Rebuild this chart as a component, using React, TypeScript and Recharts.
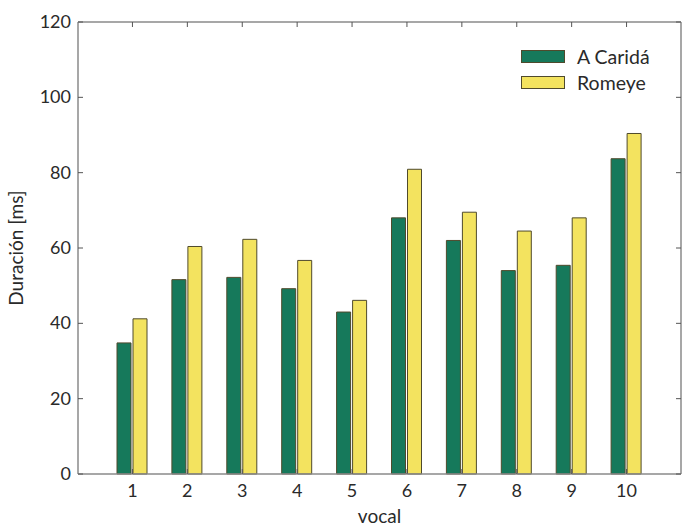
import { BarChart, Bar, XAxis, YAxis, Label } from "recharts";

const vocales = ["1", "2", "3", "4", "5", "6", "7", "8", "9", "10"];
const aCarida = [34.8, 51.6, 52.2, 49.2, 43.0, 68.0, 62.0, 54.0, 55.4, 83.7];
const romeye = [41.2, 60.4, 62.3, 56.7, 46.1, 80.9, 69.5, 64.5, 68.0, 90.4];
const yTicks = [0, 20, 40, 60, 80, 100, 120];

const data = vocales.map((v, i) => ({ vocal: v, carida: aCarida[i], romeye: romeye[i] }));

const FONT = "Lato, 'Open Sans', sans-serif";
const AXIS = "#8a8a8a";
const TICK = "#555";
const GREEN = "#16795b";
const YELLOW = "#f3e35f";
const EDGE = "#4f4a2c";
const TXT = { fill: "#2a2a2a", fontSize: 18, fontFamily: FONT };
const LBL = { fill: "#2a2a2a", fontSize: 19, fontFamily: FONT };

// ticks point into the plot, matlab style
const LeftTick = (p: any) => (
  <g>
    <line x1={p.x + 7} x2={p.x + 12} y1={p.y} y2={p.y} stroke={TICK} />
    <text x={p.x} y={p.y} dy={6} textAnchor="end" {...TXT}>{p.payload.value}</text>
  </g>
);
const BottomTick = (p: any) => (
  <g>
    <line x1={p.x} x2={p.x} y1={p.y - 10} y2={p.y - 15} stroke={TICK} />
    <text x={p.x} y={p.y} dy={13} textAnchor="middle" {...TXT}>{p.payload.value}</text>
  </g>
);
const TopTick = (p: any) => <line x1={p.x} x2={p.x} y1={p.y} y2={p.y + 5} stroke={TICK} />;
const RightTick = (p: any) => <line x1={p.x} x2={p.x - 5} y1={p.y} y2={p.y} stroke={TICK} />;

function LegendBox() {
  const rows = [
    { name: "A Caridá", color: GREEN },
    { name: "Romeye", color: YELLOW },
  ];
  return (
    <div
      style={{
        position: "absolute",
        left: 521,
        top: 43,
        fontFamily: FONT,
        fontSize: 19.5,
        color: "#2a2a2a",
      }}
    >
      {rows.map((r) => (
        <div key={r.name} style={{ display: "flex", alignItems: "center", height: 26 }}>
          <span
            style={{
              display: "inline-block",
              width: 42,
              height: 11,
              background: r.color,
              border: `1px solid ${EDGE}`,
              marginRight: 12,
            }}
          />
          <span>{r.name}</span>
        </div>
      ))}
    </div>
  );
}

export default function App() {
  return (
    <div style={{ position: "absolute", left: 0, top: 0, width: 683, height: 527, background: "#fff" }}>
      <BarChart
        width={683}
        height={527}
        data={data}
        margin={{ top: 21, right: 1, bottom: 4, left: 0 }}
        barSize={14}
        barGap={2}
      >
        <XAxis
          dataKey="vocal"
          height={49}
          padding={{ left: 27, right: 27 }}
          axisLine={{ stroke: AXIS, strokeWidth: 1.5 }}
          tickLine={false}
          tickSize={0}
          tickMargin={10}
          interval={0}
          tick={BottomTick}
        >
          <Label value="vocal" position="insideBottom" offset={0} style={LBL} />
        </XAxis>
        <XAxis
          xAxisId="top"
          dataKey="vocal"
          orientation="top"
          height={1}
          padding={{ left: 27, right: 27 }}
          axisLine={{ stroke: AXIS, strokeWidth: 1.5 }}
          tickLine={false}
          tickSize={0}
          tickMargin={0}
          interval={0}
          tick={TopTick}
        />
        <YAxis
          width={78}
          domain={[0, 120]}
          ticks={yTicks}
          interval={0}
          axisLine={{ stroke: AXIS, strokeWidth: 1.5 }}
          tickLine={false}
          tickSize={0}
          tickMargin={7}
          tick={LeftTick}
        >
          <Label
            value="Duración [ms]"
            angle={-90}
            position="insideLeft"
            offset={16}
            style={{ ...LBL, textAnchor: "middle" }}
          />
        </YAxis>
        <YAxis
          yAxisId="right"
          orientation="right"
          width={1}
          domain={[0, 120]}
          ticks={yTicks}
          interval={0}
          allowDataOverflow
          axisLine={{ stroke: AXIS, strokeWidth: 1.5 }}
          tickLine={false}
          tickSize={0}
          tickMargin={0}
          tick={RightTick}
        />
        <Bar
          dataKey="carida"
          name="A Caridá"
          fill={GREEN}
          stroke={EDGE}
          strokeWidth={1}
          isAnimationActive={false}
        />
        <Bar
          dataKey="romeye"
          name="Romeye"
          fill={YELLOW}
          stroke={EDGE}
          strokeWidth={1}
          isAnimationActive={false}
        />
      </BarChart>
      <LegendBox />
    </div>
  );
}
